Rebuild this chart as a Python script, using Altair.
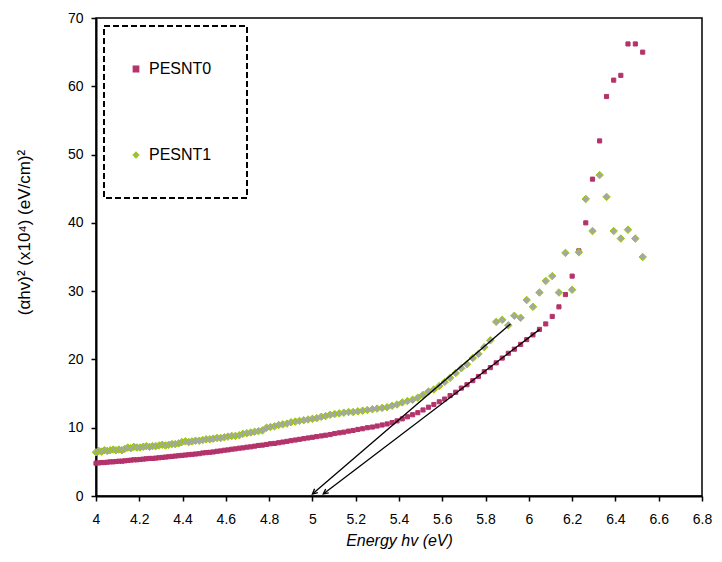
import altair as alt
import pandas as pd

# photon energy (eV), one point per nm of wavelength
energy = [4.000, 4.013, 4.026, 4.039, 4.052, 4.066, 4.079, 4.092, 4.106, 4.120,
          4.133, 4.147, 4.161, 4.175, 4.189, 4.203, 4.218, 4.232, 4.247, 4.261,
          4.276, 4.291, 4.306, 4.321, 4.336, 4.351, 4.366, 4.382, 4.397, 4.413,
          4.429, 4.444, 4.460, 4.477, 4.493, 4.509, 4.526, 4.542, 4.559, 4.576,
          4.593, 4.610, 4.627, 4.644, 4.662, 4.679, 4.697, 4.715, 4.733, 4.751,
          4.769, 4.788, 4.806, 4.825, 4.844, 4.863, 4.882, 4.901, 4.921, 4.940,
          4.960, 4.980, 5.000, 5.020, 5.041, 5.061, 5.082, 5.103, 5.124, 5.145,
          5.167, 5.188, 5.210, 5.232, 5.254, 5.277, 5.299, 5.322, 5.345, 5.368,
          5.391, 5.415, 5.439, 5.463, 5.487, 5.511, 5.536, 5.561, 5.586, 5.611,
          5.636, 5.662, 5.688, 5.714, 5.741, 5.767, 5.794, 5.822, 5.849, 5.877,
          5.905, 5.933, 5.962, 5.990, 6.019, 6.049, 6.078, 6.108, 6.139, 6.169,
          6.200, 6.231, 6.263, 6.294, 6.327, 6.359, 6.392, 6.425, 6.458, 6.492,
          6.526]

pesnt0 = [4.8, 4.85, 4.9, 4.9, 4.95, 5.0, 5.0, 5.05, 5.1, 5.1,
          5.15, 5.2, 5.25, 5.3, 5.3, 5.35, 5.4, 5.45, 5.5, 5.5,
          5.55, 5.6, 5.65, 5.7, 5.75, 5.8, 5.85, 5.9, 5.95, 6.0,
          6.05, 6.1, 6.15, 6.2, 6.3, 6.35, 6.4, 6.45, 6.55, 6.6,
          6.7, 6.75, 6.85, 6.9, 7.0, 7.05, 7.15, 7.2, 7.3, 7.4,
          7.45, 7.55, 7.65, 7.7, 7.8, 7.9, 8.0, 8.1, 8.2, 8.3,
          8.4, 8.5, 8.6, 8.7, 8.8, 8.9, 9.0, 9.15, 9.25, 9.35,
          9.5, 9.6, 9.75, 9.85, 10.0, 10.1, 10.25, 10.4, 10.55, 10.75,
          11.0, 11.3, 11.6, 11.9, 12.2, 12.6, 13.0, 13.4, 13.8, 14.2,
          14.7, 15.2, 15.8, 16.3, 16.9, 17.5, 18.2, 18.8, 19.5, 20.2,
          20.9, 21.5, 22.2, 22.9, 23.6, 24.4, 25.2, 26.3, 27.7, 29.5,
          32.2, 35.9, 40.0, 46.4, 52.0, 58.5, 60.9, 61.6, 66.2, 66.2,
          65.0]

pesnt1 = [6.4, 6.6, 6.5, 6.7, 6.6, 6.7, 6.8, 6.7, 6.8, 6.7,
          6.9, 7.1, 7.0, 7.2, 7.1, 7.1, 7.2, 7.3, 7.2, 7.3,
          7.3, 7.4, 7.5, 7.4, 7.5, 7.6, 7.6, 7.7, 7.9, 8.0,
          7.9, 8.0, 8.1, 8.1, 8.2, 8.3, 8.3, 8.4, 8.5, 8.5,
          8.6, 8.7, 8.8, 8.8, 8.9, 9.1, 9.2, 9.3, 9.4, 9.5,
          9.6, 10.0, 10.1, 10.2, 10.4, 10.5, 10.6, 10.8, 10.9, 11.0,
          11.1, 11.2, 11.3, 11.4, 11.6, 11.7, 11.9, 12.0, 12.1, 12.2,
          12.3, 12.3, 12.4, 12.5, 12.6, 12.7, 12.8, 12.9, 13.0, 13.2,
          13.4, 13.7, 13.9, 14.1, 14.4, 14.8, 15.3, 15.6, 16.1, 16.7,
          17.3, 18.0, 18.7, 19.3, 20.2, 20.8, 21.8, 22.8, 25.5, 25.8,
          25.0, 26.4, 26.1, 28.7, 27.7, 29.8, 31.5, 32.2, 29.8, 35.6,
          30.2, 35.7, 43.5, 38.8, 47.0, 43.8, 38.8, 37.7, 39.0, 37.7,
          35.0]

series_names = ["PESNT0", "PESNT1"]
x_ticks = [4.0, 4.2, 4.4, 4.6, 4.8, 5.0, 5.2, 5.4, 5.6, 5.8, 6.0, 6.2, 6.4, 6.6, 6.8]
y_ticks = [0, 10, 20, 30, 40, 50, 60, 70]

# tangent-line arrows (upper end -> x-axis intercept)
arrow_x_start = [5.915, 6.050]
arrow_y_start = [25.2, 24.4]
arrow_x_end = [5.000, 5.050]
arrow_y_end = [0.3, 0.3]
arrow_angle = [229.4, 232.7]

df0 = pd.DataFrame({"series": series_names[0], "energy": energy, "value": pesnt0})
df1 = pd.DataFrame({"series": series_names[1], "energy": energy, "value": pesnt1})

arrows_df = pd.DataFrame({
    "x0": arrow_x_start, "y0": arrow_y_start,
    "x1": arrow_x_end, "y1": arrow_y_end, "angle": arrow_angle,
})

FONT = "Liberation Sans"
xscale = alt.Scale(domain=[4, 6.8], nice=False, zero=False)
yscale = alt.Scale(domain=[0, 70], nice=False)

legend = alt.Legend(title=None, orient="top-left", offset=8)

x_axis = alt.Axis(values=x_ticks, format="~g", title="Energy hv (eV)",
                  titleFontStyle="italic", titleFontSize=16, titleFontWeight="normal",
                  titleY=49, titleBaseline="alphabetic",
                  labelFontSize=14, labelPadding=11, labelFlush=False,
                  tickSize=5, tickWidth=1.5, domainWidth=2, grid=False)
y_axis = alt.Axis(values=y_ticks, title="(αhv)² (x10⁴) (eV/cm)²",
                  titleFontSize=17, titleFontWeight="normal",
                  titleX=-72, titleY=214, titleAngle=270, titleAlign="center",
                  titleBaseline="middle",
                  labelFontSize=14, labelPadding=8,
                  tickSize=5, tickWidth=1.5, domainWidth=2, grid=False)

enc = dict(
    x=alt.X("energy:Q", scale=xscale, axis=x_axis),
    y=alt.Y("value:Q", scale=yscale, axis=y_axis),
    shape=alt.Shape("series:N", scale=alt.Scale(domain=series_names, range=["square", "diamond"]), legend=legend),
    fill=alt.Fill("series:N", scale=alt.Scale(domain=series_names, range=["#B4336B", "#A6A6A6"]), legend=legend),
    stroke=alt.Stroke("series:N", scale=alt.Scale(domain=series_names, range=["#B4336B", "#99CC00"]), legend=legend),
)

squares = alt.Chart(df0).mark_point(filled=True, opacity=1, strokeWidth=1.0, size=17).encode(**enc)
diamonds = alt.Chart(df1).mark_point(filled=True, opacity=1, strokeWidth=1.0, size=56).encode(**enc)

lines = alt.Chart(arrows_df).mark_rule(color="black", strokeWidth=1.3).encode(
    x="x0:Q", y="y0:Q", x2="x1:Q", y2="y1:Q"
)

heads = alt.Chart(arrows_df).mark_point(
    shape="M -0.5 1 L 0 0 L 0.5 1", filled=False, color="black",
    strokeWidth=1.3, size=100, opacity=1
).encode(
    x="x1:Q", y="y1:Q", angle=alt.Angle("angle:Q", scale=None)
)

chart = alt.layer(squares, diamonds, lines, heads).properties(
    width=606, height=478,
    padding={"left": 88, "top": 10, "right": 12, "bottom": 58},
    autosize=alt.AutoSizeParams(type="none"),
).configure(font=FONT).configure_view(
    stroke="black", strokeWidth=1.5
).configure_axis(
    domainColor="black", tickColor="black", labelColor="black", titleColor="black",
    labelFont=FONT, titleFont=FONT
).configure_legend(
    strokeColor="black", strokeDash=[6, 3], strokeWidth=2, fillColor="white",
    padding=35, rowPadding=70, labelFontSize=16, labelFont=FONT, labelColor="black",
    labelOffset=5, symbolOffset=-11, symbolSize=30, symbolStrokeWidth=1.3
)

chart.save("out.html", embed_options={"renderer": "svg", "actions": False})
